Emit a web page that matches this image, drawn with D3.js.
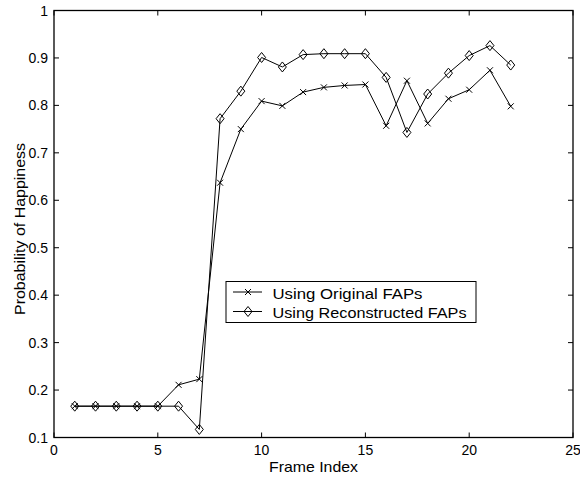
<!DOCTYPE html>
<html><head><meta charset="utf-8">
<script src="https://cdn.jsdelivr.net/npm/d3@7"></script>
<style>body{margin:0;background:#fff}svg text{font-family:"Liberation Sans",Arial,sans-serif;}</style>
</head><body>
<svg id="c" width="580" height="479"></svg>
<script>
const frames = [1,2,3,4,5,6,7,8,9,10,11,12,13,14,15,16,17,18,19,20,21,22];
const original = [0.166,0.166,0.166,0.166,0.166,0.211,0.223,0.637,0.750,0.809,0.799,0.828,0.838,0.842,0.844,0.757,0.852,0.762,0.814,0.833,0.874,0.798];
const reconstructed = [0.166,0.166,0.166,0.166,0.166,0.166,0.117,0.772,0.830,0.901,0.881,0.907,0.909,0.909,0.909,0.859,0.743,0.824,0.868,0.905,0.926,0.885];
const xTicks = [0,5,10,15,20,25];
const yTicks = [0.1,0.2,0.3,0.4,0.5,0.6,0.7,0.8,0.9,1];
const seriesNames = ["Using Original FAPs","Using Reconstructed FAPs"];

const svg = d3.select("#c");
const L=54, R=573, T=10.5, B=437.5;
const x = d3.scaleLinear().domain([0,25]).range([L,R]);
const y = d3.scaleLinear().domain([0.1,1]).range([B,T]);
const tl = 5;

const g = svg.append("g");
xTicks.forEach(t=>{
  g.append("line").attr("x1",x(t)).attr("x2",x(t)).attr("y1",B).attr("y2",B-tl).attr("stroke","#000");
  g.append("line").attr("x1",x(t)).attr("x2",x(t)).attr("y1",T).attr("y2",T+tl).attr("stroke","#000");
  g.append("text").attr("x",x(t)).attr("y",B+17).attr("text-anchor","middle").attr("font-size",14).text(t);
});
yTicks.forEach(t=>{
  g.append("line").attr("x1",L).attr("x2",L+tl).attr("y1",y(t)).attr("y2",y(t)).attr("stroke","#000");
  g.append("line").attr("x1",R).attr("x2",R-tl).attr("y1",y(t)).attr("y2",y(t)).attr("stroke","#000");
  g.append("text").attr("x",L-6).attr("y",y(t)+5).attr("text-anchor","end").attr("font-size",14).text(d3.format("~g")(t));
});
svg.append("rect").attr("x",L).attr("y",T).attr("width",R-L).attr("height",B-T).attr("fill","none").attr("stroke","#000").attr("stroke-width",1.3);

svg.append("text").attr("x",(L+R)/2).attr("y",472.3).attr("text-anchor","middle").attr("font-size",15)
  .attr("textLength",89).attr("lengthAdjust","spacingAndGlyphs").text("Frame Index");
svg.append("text").attr("transform",`translate(25,229) rotate(-90)`).attr("text-anchor","middle").attr("font-size",15.5)
  .attr("textLength",172).attr("lengthAdjust","spacingAndGlyphs").text("Probability of Happiness");

const line = d3.line().x((d,i)=>x(frames[i])).y(d=>y(d));
svg.append("path").datum(original).attr("d",line).attr("fill","none").attr("stroke","#000").attr("stroke-width",1);
svg.append("path").datum(reconstructed).attr("d",line).attr("fill","none").attr("stroke","#000").attr("stroke-width",1);

function cross(sel,cx,cy){
  const s=3;
  sel.append("path").attr("d",`M${cx-s},${cy-s}L${cx+s},${cy+s}M${cx-s},${cy+s}L${cx+s},${cy-s}`).attr("stroke","#000").attr("stroke-width",1).attr("fill","none");
}
function diamond(sel,cx,cy){
  const w=4,h=5;
  sel.append("path").attr("d",`M${cx},${cy-h}L${cx+w},${cy}L${cx},${cy+h}L${cx-w},${cy}Z`).attr("stroke","#000").attr("stroke-width",1).attr("fill","none");
}
original.forEach((v,i)=>cross(svg,x(frames[i]),y(v)));
reconstructed.forEach((v,i)=>diamond(svg,x(frames[i]),y(v)));

const lg = svg.append("g");
lg.append("rect").attr("x",226).attr("y",281.5).attr("width",250).attr("height",41).attr("fill","#fff").attr("stroke","#000").attr("stroke-width",1);
const lens = [150,194];
[0,1].forEach(k=>{
  const yy = 292+k*19.5;
  lg.append("line").attr("x1",233).attr("x2",262).attr("y1",yy).attr("y2",yy).attr("stroke","#000");
  if(k===0) cross(lg,248,yy); else diamond(lg,248,yy);
  lg.append("text").attr("x",272.5).attr("y",yy+6.5).attr("font-size",15)
    .attr("textLength",lens[k]).attr("lengthAdjust","spacingAndGlyphs").text(seriesNames[k]);
});
</script>
</body></html>
